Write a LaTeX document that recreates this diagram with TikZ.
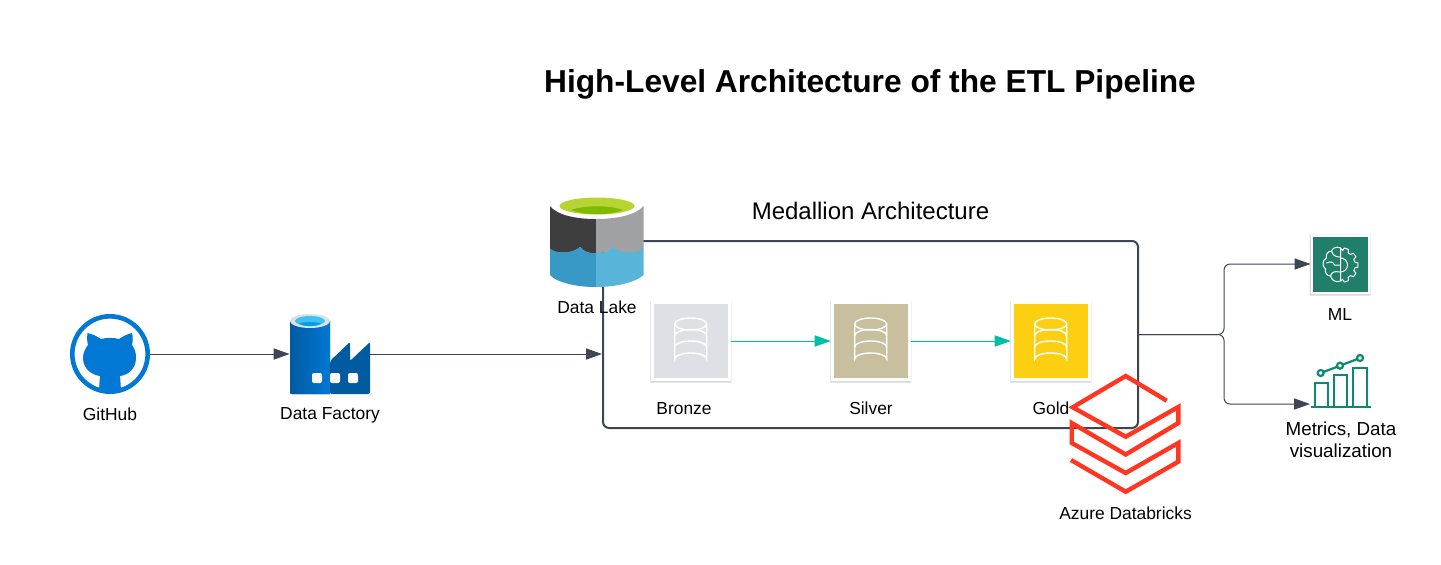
\documentclass[tikz,border=0pt]{standalone}
\usepackage{fontspec}
\setmainfont{Liberation Sans}
\usetikzlibrary{arrows.meta,calc}
\definecolor{ink}{HTML}{3F4653}
\definecolor{tealc}{HTML}{00BFA5}
\definecolor{azure}{HTML}{0078D4}
\definecolor{adfdark}{HTML}{005BA1}
\definecolor{dbred}{HTML}{FF3621}
\definecolor{mlgreen}{HTML}{1F7F68}
\definecolor{chartgreen}{HTML}{0B8A72}
\definecolor{bronzec}{HTML}{DDE1E6}
\definecolor{silverc}{HTML}{C8BF9F}
\definecolor{goldc}{HTML}{FDCF13}
\definecolor{lakedark}{HTML}{3E3E3E}
\definecolor{lakegray}{HTML}{A0A1A2}
\definecolor{lakeblue}{HTML}{3999C6}
\definecolor{lakelight}{HTML}{59B4D9}
\definecolor{lakelime}{HTML}{B8D432}
\definecolor{lakegreen}{HTML}{7FBA00}
\tikzset{
  x=0.5pt,y=-0.5pt,
  lbl/.style={font=\fontsize{8.7}{11}\selectfont,text=black,inner sep=0pt,align=center},
  flow/.style={draw=ink,line width=0.5pt,-{Triangle[length=8pt,width=5.6pt]}},
  tealflow/.style={draw=tealc,line width=0.4pt,-{Triangle[length=8pt,width=5.6pt]}},
  softedge/.style={preaction={draw=black,draw opacity=0.05,line width=#1,transform canvas={yshift=-0.6pt}}},
  tile/.style={rectangle,fill=#1,draw=white,line width=1.5pt,minimum size=38.5pt,inner sep=0pt,
    softedge=2.4pt,softedge=1.9pt,softedge=1.5pt},
  anchorbox/.style={rectangle,inner sep=0pt,minimum width=#1*0.5pt,minimum height=40pt},
  dbicon/.pic={
    \begin{scope}[draw=white,line width=0.7pt]
      \draw (-16,-17) arc[start angle=180,end angle=540,x radius=16,y radius=6];
      \draw (-16,-17) -- (-16,18) arc[start angle=180,end angle=360,x radius=16,y radius=6] -- (16,-17);
      \draw (-16,-5.5) arc[start angle=180,end angle=360,x radius=16,y radius=6];
      \draw (-16,6) arc[start angle=180,end angle=360,x radius=16,y radius=6];
    \end{scope}
  },
}
\begin{document}
\begin{tikzpicture}
\useasboundingbox (0,0) rectangle (1441,564);
\fill[white] (0,0) rectangle (1441,564);

% Title
\node[font=\fontsize{15.85}{19}\bfseries\selectfont,inner sep=0pt] (title) at (870,84) {High-Level Architecture of the ETL Pipeline};
\node[font=\fontsize{12}{14}\selectfont,inner sep=0pt] (medtitle) at (870.5,211) {Medallion Architecture};

% Frame
\node[rectangle,draw=ink,line width=1pt,rounded corners=3pt,minimum width=267.5pt,minimum height=93.5pt,inner sep=0pt] (medbox) at (870.5,334.5) {};

% GitHub
\node[circle,draw=azure,line width=2.3pt,minimum size=37.7pt,inner sep=0pt] (github) at (110,354) {};
\fill[azure] (87.5,333) .. controls (93,334) and (98,337) .. (101,339) .. controls (106,337.5) and (114,337.5) .. (119,339)
  .. controls (122,337) and (127,334) .. (132,333) .. controls (133,337) and (133,342) .. (132,345)
  .. controls (135,349) and (136,353) .. (136,358) .. controls (136,369) and (128,375) .. (120,376)
  .. controls (120.5,380) and (120.5,384) .. (121,390.5) .. controls (114,393) and (106,393) .. (99,390.5)
  .. controls (99.5,384) and (99.5,380) .. (100,376) .. controls (92,375) and (83,369) .. (83,358)
  .. controls (83,353) and (85,349) .. (88,345) .. controls (87,342) and (87,337) .. (87.5,333) -- cycle;
\node[lbl] (githublbl) at (110,414) {GitHub};

% Data Factory
\node[anchorbox=80] (factory) at (330,354) {};
\fill[adfdark,rounded corners=1pt] (330,394) -- (370,394) -- (370,342) -- (350,361) -- (350,342) -- (330,361) -- cycle;
\fill[left color=adfdark,right color=azure] (290,321) -- (290,392) .. controls (290,393.5) and (291,394) .. (292,394) -- (330,394) -- (330,321) -- cycle;
\fill[black!12] (310,321) ellipse[x radius=20,y radius=7];
\fill[cyan!75!white] (310,321) ellipse[x radius=15,y radius=5];
\fill[azure!70!cyan] (299,323.5) .. controls (304,321.5) and (316,321.5) .. (321,323.5) .. controls (316,327) and (304,327) .. (299,323.5) -- cycle;
\foreach \wx in {317,335,353}{\fill[white,rounded corners=1pt] (\wx-5,373) rectangle (\wx+5,383);}
\node[lbl] (factorylbl) at (330,415) {Data Factory};

% Tiles
\node[tile=bronzec] (bronze) at (690.7,341) {};
\node[tile=silverc] (silver) at (870.7,341) {};
\node[tile=goldc] (gold) at (1050.7,341) {};
\pic at (bronze) {dbicon};
\pic at (silver) {dbicon};
\pic at (gold) {dbicon};
\node[lbl] (bronzelbl) at (684,408.5) {Bronze};
\node[lbl] (silverlbl) at (871,408.5) {Silver};
\node[lbl] (goldlbl) at (1051,408.5) {Gold};

% Data lake
\node[anchorbox=94] (lake) at (597,247) {};
\fill[white] (550,206) arc[start angle=180,end angle=360,x radius=47,y radius=13] arc[start angle=0,end angle=180,x radius=47,y radius=13] -- cycle;
\fill[lakedark] (550,206) -- (550,250) .. controls (556,253) and (572,255) .. (580,247) .. controls (584,252) and (590,254) .. (596,253) -- (596,219) .. controls (575,219) and (557,215) .. (550,206) -- cycle;
\fill[lakegray] (643.5,206) -- (643.5,250) .. controls (635,254) and (620,255) .. (612.7,247) .. controls (609,251) and (603,254) .. (596,253) -- (596,219) .. controls (617,219) and (636,215) .. (643.5,206) -- cycle;
\fill[lakeblue] (550,248.5) .. controls (556,254) and (572,254) .. (580,247) .. controls (584,252) and (590,254) .. (596,253) -- (596,287) .. controls (575,287) and (556,282) .. (550,275) -- cycle;
\fill[lakelight] (643.5,248.5) .. controls (636,254) and (620,254) .. (612.7,247) .. controls (609,251) and (603,254) .. (596,253) -- (596,287) .. controls (617,287) and (636,282) .. (643.5,275) -- cycle;
\fill[lakelime] (597,206) ellipse[x radius=37.5,y radius=8.5];
\fill[lakegreen] (571,210) .. controls (585,205) and (609,205) .. (623,210) .. controls (610,215.5) and (584,215.5) .. (571,210) -- cycle;
\node[lbl] (lakelbl) at (597,307.5) {Data Lake};

% ML
\node[tile=mlgreen,minimum size=28.5pt,line width=1pt] (ml) at (1340,264) {};
\begin{scope}[shift={(1340.5,265)},draw=white,line width=0.5pt,line join=round,line cap=round]
  \draw (0,-17) .. controls (-4,-19) and (-8,-17) .. (-9,-14) .. controls (-13,-14) and (-15,-10) .. (-14,-7)
    .. controls (-18,-5) and (-19,1) .. (-15,4) .. controls (-16,8) and (-13,11) .. (-10,11)
    .. controls (-9,15) and (-5,18) .. (0,16) -- (0,-17);
  \draw (-9,-14) .. controls (-8,-10) and (-5,-8) .. (-1,-8);
  \draw (-14,-2) .. controls (-10,-4) and (-7,-3) .. (-6,0) -- (-1,0);
  \draw (-10,11) .. controls (-9,7) and (-6,6) .. (-1,7);
  \draw (0,-17)
    \foreach \a in {-70,-35,0,35,70}{ -- (\a-12:14.5) -- (\a-7:17.5) -- (\a+7:17.5) -- (\a+12:14.5) }
    -- (0,16);
  \draw (0,-7) arc[start angle=-90,end angle=90,radius=7] ;
\end{scope}
\node[lbl] (mllbl) at (1340,315) {ML};

% Metrics
\node[anchorbox=60] (metrics) at (1340.5,387) {};
\begin{scope}[draw=chartgreen,line width=1.1pt]
  \draw (1311,407) -- (1371,407);
  \draw (1315,407) |- (1328,383) -- (1328,407);
  \draw (1334,407) |- (1347,375) -- (1347,407);
  \draw (1353,407) |- (1367,368) -- (1367,407);
  \draw (1320.7,373) -- (1340,365.7) -- (1360,358);
  \filldraw[fill=white] (1320.7,373) circle[radius=3];
  \filldraw[fill=white] (1340,365.7) circle[radius=3];
  \filldraw[fill=white] (1360,358) circle[radius=3];
\end{scope}
\node[lbl,font=\fontsize{9.4}{11}\selectfont] (metricslbl) at (1341,439.5) {Metrics, Data\\visualization};

% Databricks
\node[anchorbox=108] (databricks) at (1125,434) {};
\draw[dbred,line width=2.2pt,miter limit=10]
  (1166.7,400.7) -- (1125.7,376) -- (1072.7,407.3) -- (1125.7,436.7) -- (1178.3,407)
  -- (1178.3,423) -- (1125.7,454.5) -- (1071.7,423) -- (1071.7,443) -- (1125.7,473)
  -- (1178.3,443) -- (1178.3,461.7) -- (1125.7,491.7) -- (1071,460);
\node[lbl] (dblbl) at (1125.5,513.5) {Azure Databricks};

% Connectors
\draw[flow] (github) -- (factory);
\draw[flow] (factory.east) -- (factory.east -| medbox.west);
\draw[tealflow] (bronze) -- (silver);
\draw[tealflow] (silver) -- (gold);
\coordinate (split) at (1224,334.5);
\coordinate (metricsin) at (1310,404);
\draw[flow,rounded corners=3pt] (medbox.east) -- (split) -- (split |- ml.west) -- (ml.west);
\draw[flow,rounded corners=3pt] (medbox.east) -- (split) -- (split |- metricsin) -- (metricsin);
\end{tikzpicture}
\end{document}
